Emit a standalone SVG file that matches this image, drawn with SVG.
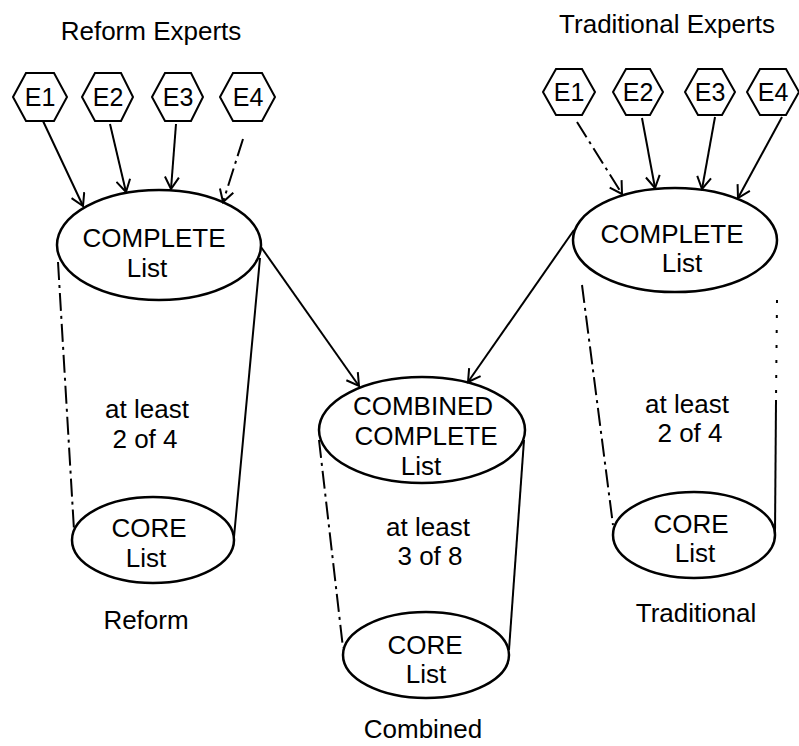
<svg xmlns="http://www.w3.org/2000/svg" width="799" height="746" viewBox="0 0 799 746">
<style>
  text { font-family: "Liberation Sans", Arial, sans-serif; font-size: 26px; fill: #000; text-anchor: middle; }
  .ex { font-size: 25px; }
  .hex { fill: none; stroke: #000; stroke-width: 2; }
  .ell { fill: none; stroke: #000; stroke-width: 2.5; }
  .side { fill: none; stroke: #000; stroke-width: 2; }
  .dash { stroke-dasharray: 18 5 3 5; }
  .dot { stroke-dasharray: 3 12; }
  .conn { fill: none; stroke: #000; stroke-width: 2; marker-end: url(#arr); }
</style>
<defs>
  <marker id="arr" markerUnits="userSpaceOnUse" markerWidth="16" markerHeight="16" viewBox="0 0 16 16" refX="13" refY="8" orient="auto">
    <path d="M1,1 L13,8 L1,15" fill="none" stroke="#000" stroke-width="2"/>
  </marker>
</defs>
<rect width="799" height="746" fill="#fff"/>

<text x="151" y="40">Reform Experts</text>
<text x="667" y="33">Traditional Experts</text>

<g id="rE1"><polygon class="hex" points="13,97 26,73 54,73 67,97 54,121 26,121"/><text class="ex" x="40" y="106">E1</text></g>
<g id="rE2"><polygon class="hex" points="82,97 95,73 121,73 133,97 121,121 95,121"/><text class="ex" x="108" y="106">E2</text></g>
<g id="rE3"><polygon class="hex" points="152,97 165,73 191,73 203,97 191,121 165,121"/><text class="ex" x="178" y="106">E3</text></g>
<g id="rE4"><polygon class="hex" points="220,97 233,73 262,73 275,97 262,121 233,121"/><text class="ex" x="248" y="106">E4</text></g>

<g id="tE1"><polygon class="hex" points="543,92 556,69 582,69 595,92 582,115 556,115"/><text class="ex" x="569" y="101">E1</text></g>
<g id="tE2"><polygon class="hex" points="613,92 626,69 650,69 663,92 650,115 626,115"/><text class="ex" x="638" y="101">E2</text></g>
<g id="tE3"><polygon class="hex" points="685,92 698,69 722,69 735,92 722,115 698,115"/><text class="ex" x="710" y="101">E3</text></g>
<g id="tE4"><polygon class="hex" points="747,92 760,69 786,69 799,92 786,115 760,115"/><text class="ex" x="773" y="101">E4</text></g>

<g id="reform">
  <line class="side dash" x1="58" y1="262" x2="74" y2="530"/>
  <line class="side" x1="260" y1="258" x2="234" y2="537"/>
  <ellipse class="ell" cx="159" cy="245" rx="102" ry="55"/>
  <text x="154" y="247">COMPLETE</text>
  <text x="147" y="277">List</text>
  <text x="147" y="418">at least</text>
  <text x="145" y="448">2 of 4</text>
  <ellipse class="ell" cx="153" cy="540" rx="81" ry="43"/>
  <text x="149" y="537">CORE</text>
  <text x="146" y="567">List</text>
  <text x="146" y="629">Reform</text>
</g>

<g id="combined">
  <line class="side dash" x1="319" y1="440" x2="343" y2="648"/>
  <line class="side" x1="524" y1="440" x2="509" y2="650"/>
  <ellipse class="ell" cx="422" cy="430" rx="103" ry="53"/>
  <text x="423" y="415">COMBINED</text>
  <text x="426" y="445">COMPLETE</text>
  <text x="421" y="475">List</text>
  <text x="428" y="536">at least</text>
  <text x="430" y="565">3 of 8</text>
  <ellipse class="ell" cx="426" cy="655" rx="83" ry="43"/>
  <text x="425" y="654">CORE</text>
  <text x="426" y="683">List</text>
  <text x="423" y="738">Combined</text>
</g>

<g id="traditional">
  <line class="side dash" x1="582" y1="285" x2="613" y2="525"/>
  <line class="side dot" x1="777" y1="300" x2="776" y2="400"/>
  <line class="side" x1="776" y1="400" x2="775" y2="533"/>
  <ellipse class="ell" cx="675" cy="240" rx="102" ry="52"/>
  <text x="672" y="243">COMPLETE</text>
  <text x="682" y="272">List</text>
  <text x="687" y="413">at least</text>
  <text x="690" y="442">2 of 4</text>
  <ellipse class="ell" cx="694" cy="535" rx="81" ry="43"/>
  <text x="691" y="533">CORE</text>
  <text x="695" y="562">List</text>
  <text x="696" y="622">Traditional</text>
</g>

<g id="connectors">
  <line class="conn" x1="43" y1="121" x2="83" y2="206"/>
  <line class="conn" x1="110" y1="124" x2="126" y2="192"/>
  <line class="conn" x1="176" y1="124" x2="171" y2="189"/>
  <line class="conn dash" x1="243" y1="139" x2="223" y2="202"/>
  <line class="conn dash" x1="577" y1="122" x2="622" y2="194"/>
  <line class="conn" x1="642" y1="118" x2="655" y2="188"/>
  <line class="conn" x1="715" y1="117" x2="702" y2="189"/>
  <line class="conn" x1="782" y1="117" x2="738" y2="198"/>
  <line class="conn" x1="261" y1="247" x2="359" y2="386"/>
  <line class="conn" x1="574" y1="230" x2="468" y2="382"/>
</g>
</svg>
